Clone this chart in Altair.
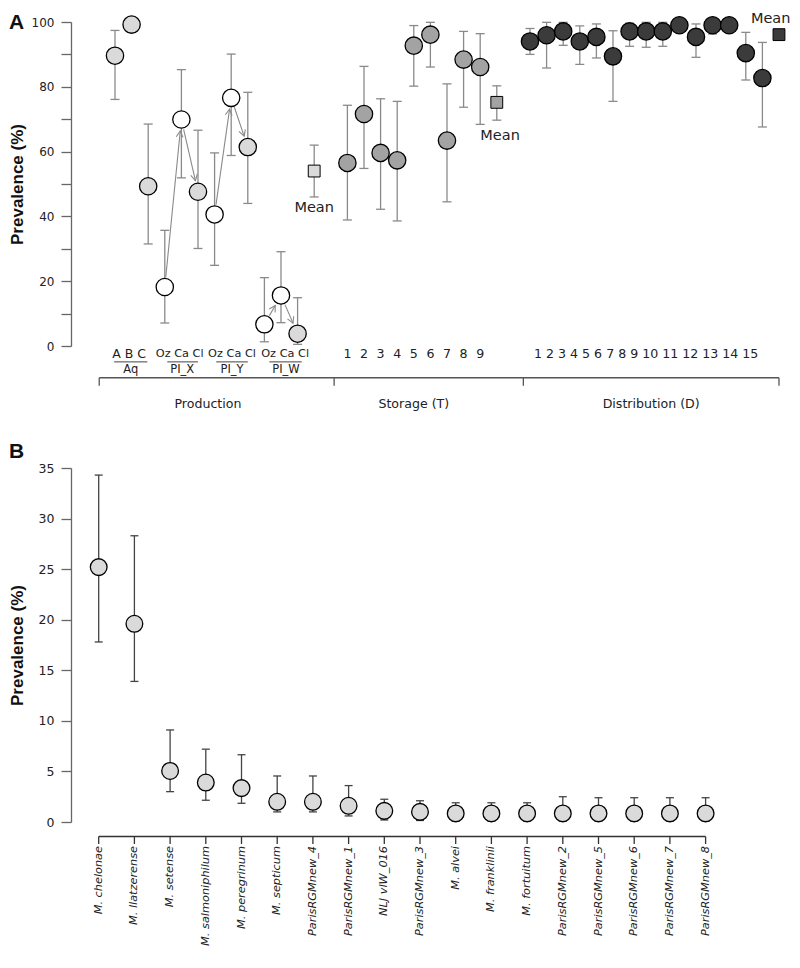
import math
import altair as alt
import pandas as pd

# ---------------- Panel A : values ----------------
prod_labels = ["A", "B", "C", "Oz", "Ca", "Cl", "Oz", "Ca", "Cl", "Oz", "Ca", "Cl"]
prod_value = [89.6, 99.2, 49.3, 18.2, 69.9, 47.6, 40.6, 76.6, 61.4, 6.7, 15.6, 3.8]
prod_lower = [76.1, 97.5, 31.5, 7.1, 51.9, 30.1, 24.9, 58.8, 44.0, 1.3, 7.2, 0.5]
prod_upper = [97.4, 100.0, 68.5, 35.7, 85.3, 66.6, 59.6, 90.1, 78.3, 21.1, 29.1, 14.9]
prod_slot = [1, 2, 3, 4, 5, 6, 7, 8, 9, 10, 11, 12]

storage_labels = ["1", "2", "3", "4", "5", "6", "7", "8", "9"]
storage_value = [56.5, 71.6, 59.6, 57.3, 92.7, 96.1, 63.4, 88.4, 86.1]
storage_lower = [38.9, 54.8, 42.2, 38.6, 80.2, 86.1, 44.5, 73.7, 68.4]
storage_upper = [74.3, 86.3, 76.3, 75.5, 98.9, 99.9, 80.9, 97.1, 96.4]
storage_slot = [15, 16, 17, 18, 19, 20, 21, 22, 23]

dist_labels = [str(i) for i in range(1, 16)]
dist_value = [94.0, 95.9, 97.1, 94.0, 95.4, 89.4, 97.1, 97.1, 97.1, 99.0, 95.4, 99.0, 99.0, 90.4, 82.7]
dist_lower = [90.0, 85.8, 92.8, 86.9, 88.9, 75.5, 92.5, 92.2, 92.5, 97.0, 89.1, 96.3, 97.0, 82.1, 67.6]
dist_upper = [98.0, 99.9, 99.9, 98.8, 99.4, 97.3, 99.6, 99.9, 99.9, 100.0, 99.4, 100.0, 100.0, 96.8, 93.7]
dist_slot = [26, 27, 28, 29, 30, 31, 32, 33, 34, 35, 36, 37, 38, 39, 40]

mean_value = [54.0, 75.2, 96.1]
mean_lower = [46.0, 69.7, 95.0]
mean_upper = [62.0, 80.3, 97.0]
mean_slot = [13, 24, 41]

group_names = ["Production", "Storage (T)", "Distribution (D)"]
sub_names = ["Aq", "PI_X", "PI_Y", "PI_W"]
sub_tops = ["A B C", "Oz Ca Cl", "Oz Ca Cl", "Oz Ca Cl"]

LIGHT, MID, DARK = "#dadada", "#a3a3a3", "#3b3b3b"

# ---------------- Panel B : values ----------------
species = ["M. chelonae", "M. llatzerense", "M. setense", "M. salmoniphilum",
           "M. peregrinum", "M. septicum", "ParisRGMnew_4", "ParisRGMnew_1",
           "NLJ vlW_016", "ParisRGMnew_3", "M. alvei", "M. franklinii",
           "M. fortuitum", "ParisRGMnew_2", "ParisRGMnew_5", "ParisRGMnew_6",
           "ParisRGMnew_7", "ParisRGMnew_8"]
b_value = [25.2, 19.6, 5.05, 3.9, 3.35, 2.0, 2.0, 1.6, 1.1, 1.0, 0.85, 0.85, 0.85, 0.85, 0.85, 0.85, 0.85, 0.85]
b_lower = [17.8, 13.9, 3.0, 2.15, 1.85, 1.0, 1.0, 0.6, 0.2, 0.15, 0.1, 0.1, 0.1, 0.1, 0.1, 0.1, 0.1, 0.1]
b_upper = [34.3, 28.3, 9.1, 7.2, 6.65, 4.55, 4.55, 3.6, 2.25, 2.1, 1.9, 1.9, 1.9, 2.5, 2.4, 2.4, 2.4, 2.4]

# ---------------- layout constants ----------------
WA, HA = 714, 324
WB, HB = 714, 354
PXA_SLOT = 16.6
PXB_SLOT = 35.7
XA_DOM = [-1.65, -1.65 + WA / PXA_SLOT]
YA_DOM = [0, 100]
XB_DOM = [0.224, 0.224 + WB / PXB_SLOT]
YB_DOM = [0, 35]
PXA = WA / (XA_DOM[1] - XA_DOM[0])
PYA = HA / (YA_DOM[1] - YA_DOM[0])

FONT = "DejaVu Sans"

# ---------------- tables ----------------
pts = pd.DataFrame({
    "slot": prod_slot + storage_slot + dist_slot,
    "value": prod_value + storage_value + dist_value,
    "lower": prod_lower + storage_lower + dist_lower,
    "upper": prod_upper + storage_upper + dist_upper,
    "fill": [("white" if l in ("Oz", "Ca") else LIGHT) for l in prod_labels]
            + [MID] * len(storage_value) + [DARK] * len(dist_value),
})
means = pd.DataFrame({"slot": mean_slot, "value": mean_value, "lower": mean_lower,
                      "upper": mean_upper, "fill": [LIGHT, MID, DARK]})
bars = pd.concat([pts, means], ignore_index=True)

# arrows Oz -> Ca -> Cl within each plant
arrow_rows = []
for a, b in [(3, 4), (4, 5), (6, 7), (7, 8), (9, 10), (10, 11)]:
    x1, y1 = prod_slot[a], prod_value[a]
    x2, y2 = prod_slot[b], prod_value[b]
    dxp = (x2 - x1) * PXA
    dyp = -(y2 - y1) * PYA
    L = math.hypot(dxp, dyp)
    ux, uy = dxp / L, dyp / L
    s0, s1 = 10.0, 11.5
    sx, sy = x1 + ux * s0 / PXA, y1 - uy * s0 / PYA
    ex, ey = x2 - ux * s1 / PXA, y2 + uy * s1 / PYA
    ang = math.degrees(math.atan2(dxp, -dyp)) % 360
    arrow_rows.append({"x": sx, "y": sy, "x2": ex, "y2": ey, "angle": ang})
arrows = pd.DataFrame(arrow_rows)

ROW1, ULINE, ROW2, BRACK, BTICK, ROW3 = -2.6, -4.9, -7.4, -9.8, -12.3, -17.9
dist_row = " ".join(dist_labels)
labels_a = pd.DataFrame({
    "x": [1.85, 4.9, 8.05, 11.25] + storage_slot + [33.0]
         + [1.95, 5.05, 8.05, 11.3] + [6.6, 19.0, 33.3],
    "y": [ROW1] * (4 + len(storage_slot) + 1) + [ROW2] * 4 + [ROW3] * 3,
    "t": sub_tops + storage_labels + [dist_row] + sub_names + group_names,
    "size": [12.5, 11.3, 11.3, 11.3] + [12.6] * (len(storage_slot) + 1) + [11.5] * 4
            + [12.6] * 3,
})
ulines = pd.DataFrame({"x": [0.95, 4.15, 7.1, 10.3], "x2": [2.95, 6.0, 9.0, 12.25],
                       "y": [ULINE] * 4})
bracket = pd.DataFrame({"x": [0.05], "x2": [41.0], "y": [BRACK]})
bticks = pd.DataFrame({"x": [0.05, 14.2, 25.6, 41.0], "y": [BRACK] * 4, "y2": [BTICK] * 4})
mean_lbl = pd.DataFrame({"x": [13.0, 24.2, 40.5], "y": [42.6, 64.8, 100.8],
                         "t": ["Mean", "Mean", "Mean"]})
panel_a_lbl = pd.DataFrame({"x": [-5.39], "y": [103.2], "t": ["A"]})

xsA = alt.Scale(domain=XA_DOM, nice=False, zero=False)
ysA = alt.Scale(domain=YA_DOM, nice=False, zero=False)
axisA = alt.Axis(values=list(range(0, 101, 10)),
                 labelExpr="datum.value % 20 == 0 ? datum.label : ''",
                 tickSize=10, labelPadding=7, labelFontSize=12, labelFont=FONT,
                 labelColor="#222", domainColor="#666", tickColor="#666",
                 domainWidth=1.3, tickWidth=1.3, grid=False, labelFlush=False,
                 labelOverlap=False, title="Prevalence (%)", titleFont="Liberation Sans",
                 titleFontSize=17, titleFontWeight="bold", titleColor="#111",
                 titlePadding=5)


def XA(f):
    return alt.X(f, type="quantitative", scale=xsA, axis=None)


def YA(f):
    return alt.Y(f, type="quantitative", scale=ysA, axis=axisA)


EB = "#8a8a8a"
errA = alt.Chart(bars).mark_rule(color=EB, strokeWidth=1.3).encode(
    x=XA("slot"), y=YA("lower"), y2="upper")
capLoA = alt.Chart(bars).mark_tick(orient="horizontal", size=9, thickness=1.3,
                                   color=EB, opacity=1).encode(x=XA("slot"), y=YA("lower"))
capHiA = alt.Chart(bars).mark_tick(orient="horizontal", size=9, thickness=1.3,
                                   color=EB, opacity=1).encode(x=XA("slot"), y=YA("upper"))
arrowLines = alt.Chart(arrows).mark_rule(color="#8a8a8a", strokeWidth=1.1).encode(
    x=XA("x"), y=YA("y"), x2="x2", y2="y2")
arrowHeads = alt.Chart(arrows).mark_point(
    shape="M -0.55 1 L 0 0 L 0.55 1", filled=False, size=150, color="#8a8a8a",
    strokeWidth=1.1, opacity=1).encode(
    x=XA("x2"), y=YA("y2"), angle=alt.Angle("angle:Q", scale=None))
dotsA = alt.Chart(pts).mark_point(shape="circle", filled=True, size=300, stroke="black",
                                  strokeWidth=1.3, opacity=1).encode(
    x=XA("slot"), y=YA("value"), fill=alt.Fill("fill:N", scale=None))
sqA = alt.Chart(means).mark_point(shape="square", filled=True, size=140, stroke="black",
                                  strokeWidth=1.0, opacity=1).encode(
    x=XA("slot"), y=YA("value"), fill=alt.Fill("fill:N", scale=None))
meanTxt = alt.Chart(mean_lbl).mark_text(font=FONT, fontSize=14.5, color="#222",
                                        baseline="middle", align="center").encode(
    x=XA("x"), y=YA("y"), text="t:N")
catTxt = alt.Chart(labels_a).mark_text(font=FONT, color="#222", baseline="middle",
                                       align="center").encode(
    x=XA("x"), y=YA("y"), text="t:N", size=alt.Size("size:Q", scale=None))
ulineA = alt.Chart(ulines).mark_rule(color="#444", strokeWidth=1).encode(
    x=XA("x"), x2="x2", y=YA("y"))
brackA = alt.Chart(bracket).mark_rule(color="#555", strokeWidth=1.3).encode(
    x=XA("x"), x2="x2", y=YA("y"))
bticksA = alt.Chart(bticks).mark_rule(color="#555", strokeWidth=1.3).encode(
    x=XA("x"), y=YA("y"), y2="y2")
letterA = alt.Chart(panel_a_lbl).mark_text(font="Liberation Sans", fontSize=21,
                                           fontWeight="bold", align="left",
                                           baseline="top", color="#111").encode(
    x=XA("x"), y=YA("y"), text="t:N")

panelA = alt.layer(errA, capLoA, capHiA, arrowLines, arrowHeads, dotsA, sqA, meanTxt,
                   catTxt, ulineA, brackA, bticksA, letterA).properties(width=WA, height=HA)

# ---------------- Panel B ----------------
PYB = HB / (YB_DOM[1] - YB_DOM[0])
bdf = pd.DataFrame({"slot": list(range(1, len(species) + 1)), "value": b_value,
                    "lower": b_lower, "upper": b_upper, "name": species})
AXB_Y, AXB_T, AXB_L = -14.5 / PYB, -22.0 / PYB, -24.0 / PYB
baxis = pd.DataFrame({"x": [1], "x2": [len(species)], "y": [AXB_Y]})
bt = pd.DataFrame({"x": list(range(1, len(species) + 1)), "y": [AXB_Y] * len(species),
                   "y2": [AXB_T] * len(species), "ly": [AXB_L] * len(species),
                   "name": species})
panel_b_lbl = pd.DataFrame({"x": [-1.51], "y": [35 + 27.0 / PYB], "t": ["B"]})

xsB = alt.Scale(domain=XB_DOM, nice=False, zero=False)
ysB = alt.Scale(domain=YB_DOM, nice=False, zero=False)
axisB = alt.Axis(values=list(range(0, 36, 5)), tickSize=10, labelPadding=7,
                 labelFontSize=12.5, labelFont=FONT, labelColor="#222",
                 domainColor="#666", tickColor="#666", domainWidth=1.3, tickWidth=1.3,
                 grid=False, labelFlush=False, labelOverlap=False,
                 title="Prevalence (%)", titleFont="Liberation Sans", titleFontSize=17,
                 titleFontWeight="bold", titleColor="#111", titlePadding=12)


def XB(f):
    return alt.X(f, type="quantitative", scale=xsB, axis=None)


def YB(f):
    return alt.Y(f, type="quantitative", scale=ysB, axis=axisB)


EBB = "#444444"
errB = alt.Chart(bdf).mark_rule(color=EBB, strokeWidth=1.3).encode(
    x=XB("slot"), y=YB("lower"), y2="upper")
capLoB = alt.Chart(bdf).mark_tick(orient="horizontal", size=8, thickness=1.3,
                                  color=EBB, opacity=1).encode(x=XB("slot"), y=YB("lower"))
capHiB = alt.Chart(bdf).mark_tick(orient="horizontal", size=8, thickness=1.3,
                                  color=EBB, opacity=1).encode(x=XB("slot"), y=YB("upper"))
dotsB = alt.Chart(bdf).mark_point(shape="circle", filled=True, size=280, fill=LIGHT,
                                  stroke="black", strokeWidth=1.3, opacity=1).encode(
    x=XB("slot"), y=YB("value"))
axLineB = alt.Chart(baxis).mark_rule(color="#333", strokeWidth=1.3).encode(
    x=XB("x"), x2="x2", y=YB("y"))
axTickB = alt.Chart(bt).mark_rule(color="#333", strokeWidth=1.3).encode(
    x=XB("x"), y=YB("y"), y2="y2")
axLblB = alt.Chart(bt).mark_text(font=FONT, fontSize=11.3, fontStyle="italic", angle=270,
                                 align="right", baseline="middle", color="#222").encode(
    x=XB("x"), y=YB("ly"), text="name:N")
letterB = alt.Chart(panel_b_lbl).mark_text(font="Liberation Sans", fontSize=21,
                                           fontWeight="bold", align="left",
                                           baseline="top", color="#111").encode(
    x=XB("x"), y=YB("y"), text="t:N")

panelB = alt.layer(errB, capLoB, capHiB, dotsB, axLineB, axTickB, axLblB,
                   letterB).properties(width=WB, height=HB)

chart = alt.vconcat(panelA, panelB, spacing=29).configure_view(
    stroke=None).properties(background="white",
                            padding={"left": 0, "top": 3, "right": 0, "bottom": 0})

chart.save("out.html", embed_options={"renderer": "svg", "actions": False})
